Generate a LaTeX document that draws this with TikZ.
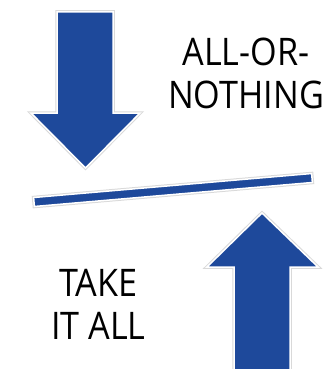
\documentclass[tikz,border=0pt]{standalone}
\usepackage{fontspec}
\setmainfont[FakeStretch=0.9]{Open Sans}
\usetikzlibrary{calc}
\definecolor{arrowblue}{RGB}{30,73,155}
\tikzset{
  glow/.style={draw=black!15, line width=3.5pt},
  blueshape/.style={fill=arrowblue, draw=white, line width=1.5pt},
  bigtext/.style={font=\fontsize{38}{43}\selectfont, align=center, inner sep=0pt}
}

\begin{document}
\begin{tikzpicture}[x=1pt, y=-1pt, line join=miter]
  \useasboundingbox (0,0) rectangle (327,369);
  \clip (0,0) rectangle (327,369);

  % --- down arrow ---
  \coordinate (DA) at (57,12);
  \coordinate (DB) at (113,12);
  \coordinate (DC) at (113,113);
  \coordinate (DD) at (140,113);
  \coordinate (DT) at (85.5,168);
  \coordinate (DE) at (31,113);
  \coordinate (DF) at (57,113);
  \draw[glow] (DA) -- (DB) -- (DC) -- (DD) -- (DT) -- (DE) -- (DF) -- cycle;
  \draw[blueshape] (DA) -- (DB) -- (DC) -- (DD) -- (DT) -- (DE) -- (DF) -- cycle;

  % --- tilted bar ---
  \coordinate (L) at (34,202);
  \coordinate (R) at (312,178);
  \coordinate (L1) at ($(L)!4.5pt!90:(R)$);
  \coordinate (L2) at ($(L)!4.5pt!-90:(R)$);
  \coordinate (R1) at ($(R)!4.5pt!-90:(L)$);
  \coordinate (R2) at ($(R)!4.5pt!90:(L)$);
  \draw[glow] (L1) -- (R1) -- (R2) -- (L2) -- cycle;
  \draw[blueshape] (L1) -- (R1) -- (R2) -- (L2) -- cycle;

  % --- up arrow ---
  \coordinate (UA) at (234,380);
  \coordinate (UB) at (234,267);
  \coordinate (UC) at (207,267);
  \coordinate (UT) at (262,213);
  \coordinate (UD) at (318,267);
  \coordinate (UE) at (290,267);
  \coordinate (UF) at (290,380);
  \draw[glow] (UA) -- (UB) -- (UC) -- (UT) -- (UD) -- (UE) -- (UF);
  \draw[blueshape] (UA) -- (UB) -- (UC) -- (UT) -- (UD) -- (UE) -- (UF) -- cycle;

  % --- labels ---
  \node[bigtext] (allornothing) at (246,73) {ALL-OR-\\NOTHING};
  \node[bigtext] (takeitall) at (98.5,304.5) {TAKE\\IT ALL};
\end{tikzpicture}
\end{document}
